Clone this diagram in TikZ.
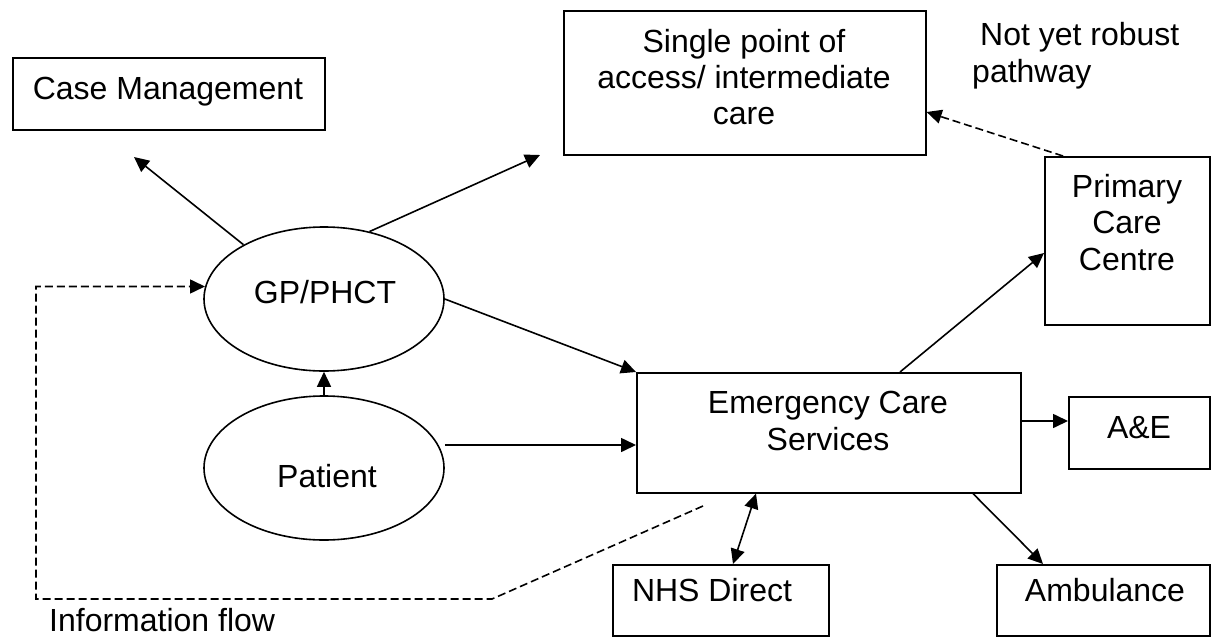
\documentclass[tikz,border=0pt]{standalone}
\usepackage{fontspec}
\setmainfont{Liberation Sans}
\usetikzlibrary{arrows.meta,shapes.geometric,calc}
\begin{document}
\begin{tikzpicture}[x=1pt,y=-1pt,
  box/.style={draw, line width=1.6pt, rectangle, inner sep=0pt, anchor=north west},
  oval/.style={draw, line width=1.6pt, ellipse, inner sep=0pt, minimum width=240pt, minimum height=144pt},
  txt/.style={font=\fontsize{32}{36}\selectfont, inner sep=0pt, anchor=base},
  txtl/.style={txt, anchor=base west},
  conn/.style={line width=1.6pt, -{Triangle[length=15pt,width=14pt]}},
  dconn/.style={conn, dash pattern=on 8pt off 4pt},
]
\useasboundingbox (0,0) rectangle (1212,637);

% boxes
\node[box, minimum width=312pt, minimum height=72pt] (cm) at (12,57) {};
\node[box, minimum width=362pt, minimum height=144pt] (spa) at (563,10) {};
\node[box, minimum width=165pt, minimum height=168pt] (pcc) at (1044,156) {};
\node[box, minimum width=384pt, minimum height=120pt] (ecs) at (636,372) {};
\node[box, minimum width=141pt, minimum height=72pt] (ae) at (1068,396) {};
\node[box, minimum width=216pt, minimum height=71pt] (nhs) at (612,564) {};
\node[box, minimum width=213pt, minimum height=71pt] (amb) at (996,564) {};

% ellipses
\node[oval] (gp) at (324,299) {};
\node[oval] (pat) at (324,468) {};

% texts
\node[txt] (tcm) at (168,99) {Case Management};
\node[txt] (tspa1) at (744,52) {Single point of};
\node[txt] (tspa2) at (744,88) {access/ intermediate};
\node[txt] (tspa3) at (744,124) {care};
\node[txtl] (tnyr1) at (980,45) {Not yet robust};
\node[txtl] (tnyr2) at (972,82) {pathway};
\node[txt] (tpcc1) at (1127,197) {Primary};
\node[txt] (tpcc2) at (1127,233) {Care};
\node[txt] (tpcc3) at (1127,270) {Centre};
\node[txt] (tecs1) at (828,413) {Emergency Care};
\node[txt] (tecs2) at (828,450) {Services};
\node[txt] (tae) at (1139,438) {A\&E};
\node[txt] (tnhs) at (712,601) {NHS Direct};
\node[txt] (tamb) at (1105,601) {Ambulance};
\node[txt] (tgp) at (325,303) {GP/PHCT};
\node[txt] (tpat) at (327,487) {Patient};
\node[txtl] (tinf) at (49,631) {Information flow};

% free ends
\coordinate (cmtip) at (134,157);
\coordinate (spatip) at (540,155);
\coordinate (pa) at ($(pat.east)+(0,-23)$);
\coordinate (ecsa) at ($(ecs.north east)+(0,49)$);
\coordinate (if0) at (703,506);
\coordinate (if1) at (492,599);
\coordinate (if2) at (36,599);

% connectors
\draw[conn] (gp.146) -- (cmtip);
\draw[conn] (gp.56) -- (spatip);
\draw[conn] (gp.east) -- (ecs.north west);
\draw[conn] (pat.north) -- (gp.south);
\draw[conn] (pa) -- (pa -| ecs.west);
\draw[conn] ($(ecs.north west)+(264,0)$) -- ($(pcc.north west)+(0,97)$);
\draw[conn] (ecsa) -- (ecsa -| ae.west);
\draw[line width=1.6pt, {Triangle[length=15pt,width=14pt]}-{Triangle[length=15pt,width=14pt]}]
  ($(ecs.south west)+(120,0)$) -- ($(nhs.north west)+(121,0)$);
\draw[conn] ($(ecs.south west)+(337,0)$) -- ($(amb.north west)+(47,0)$);
\draw[dconn] ($(pcc.north west)+(19,0)$) -- ($(spa.north east)+(0,102)$);
\draw[dconn] (if0) -- (if1) -- (if2) |- (gp.174);

\end{tikzpicture}
\end{document}
